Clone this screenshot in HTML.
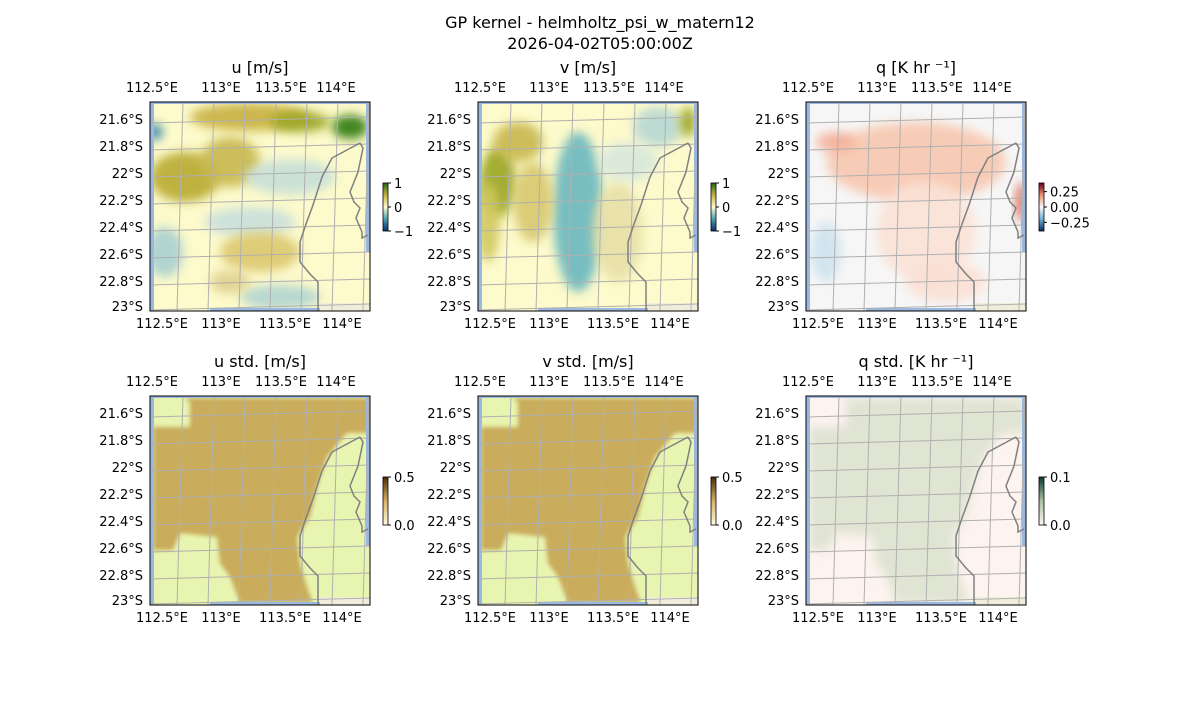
<!DOCTYPE html>
<html><head><meta charset="utf-8"><style>
body{margin:0;background:#fff;font-family:"Liberation Sans","DejaVu Sans",sans-serif;}
svg text{font-family:"DejaVu Sans","Liberation Sans",sans-serif;}
</style></head><body>
<svg id="s" width="1200" height="700" xmlns="http://www.w3.org/2000/svg">
<defs>
<filter id="b" x="-50%" y="-50%" width="200%" height="200%"><feGaussianBlur stdDeviation="9"/></filter>
<filter id="b2" x="-50%" y="-50%" width="200%" height="200%"><feGaussianBlur stdDeviation="5"/></filter>
<filter id="b3" x="-50%" y="-50%" width="200%" height="200%"><feGaussianBlur stdDeviation="2"/></filter>
<linearGradient id="gU" x1="0" y1="1" x2="0" y2="0"><stop offset="0" stop-color="#08306b"/><stop offset="0.25" stop-color="#4aa0b0"/><stop offset="0.5" stop-color="#fdfacb"/><stop offset="0.75" stop-color="#c8b040"/><stop offset="1" stop-color="#1e6a10"/></linearGradient>
<linearGradient id="gQ" x1="0" y1="1" x2="0" y2="0"><stop offset="0" stop-color="#053061"/><stop offset="0.25" stop-color="#6fb0d6"/><stop offset="0.5" stop-color="#f7f7f7"/><stop offset="0.75" stop-color="#f09070"/><stop offset="1" stop-color="#67001f"/></linearGradient>
<linearGradient id="gS" x1="0" y1="1" x2="0" y2="0"><stop offset="0" stop-color="#fffbe0"/><stop offset="0.5" stop-color="#d8b060"/><stop offset="1" stop-color="#4a2a05"/></linearGradient>
<linearGradient id="gQS" x1="0" y1="1" x2="0" y2="0"><stop offset="0" stop-color="#fff5f0"/><stop offset="0.5" stop-color="#a8c0a0"/><stop offset="1" stop-color="#0a3a30"/></linearGradient>
</defs>
<text x="600" y="28" text-anchor="middle" font-size="16">GP kernel - helmholtz_psi_w_matern12</text>
<text x="600" y="49" text-anchor="middle" font-size="16">2026-04-02T05:00:00Z</text>
</svg>
<script>
const S=document.getElementById('s');const NS='http://www.w3.org/2000/svg';
function el(t,a,p){const e=document.createElementNS(NS,t);for(const k in a)e.setAttribute(k,a[k]);(p||S).appendChild(e);return e;}
function tx(x,y,s,a,fs){const e=el('text',{x:x,y:y,'text-anchor':a||'middle','font-size':fs||13});e.textContent=s;return e;}
const W=220,H=209;
const panels=[
 {x:150,y:102,t:'u [m/s]',base:'#fdfacb',blobs:[[100,15,60,14,'#c8b040'],[200,25,18,12,'#2e7a10'],[150,20,30,10,'#9aa520'],[35,75,35,25,'#b8aa30'],[80,60,30,25,'#c8b850'],[140,75,45,18,'#c8e0d8'],[100,120,45,15,'#c8e0dc'],[15,150,18,25,'#a8d0d0'],[110,150,40,20,'#dcc870'],[130,195,40,12,'#b0d4d0'],[5,30,8,8,'#2f85a8'],[80,180,20,12,'#e0d090']],cb:'u',labs:[['1',0],['0',0.5],['−1',1]]},
 {x:478,y:102,t:'v [m/s]',base:'#fdfacb',blobs:[[100,110,25,80,'#6ab8c0'],[20,80,18,35,'#9aa520'],[55,100,20,40,'#d8c870'],[180,25,25,20,'#b8d8d4'],[140,130,25,50,'#e8e0a8'],[40,40,25,20,'#c8b850'],[10,120,12,40,'#d0c860'],[210,20,8,15,'#9aa520'],[150,60,30,20,'#d8e8dc']],cb:'u',labs:[['1',0],['0',0.5],['−1',1]]},
 {x:806,y:102,t:'q [K hr \u207B\u00B9]',base:'#f6f6f6',blobs:[[110,60,90,40,'#f8c8b0'],[120,130,50,50,'#fbe2d6'],[140,180,40,20,'#fbe0d4'],[20,150,15,30,'#cfe3ef'],[30,40,20,10,'#f4b098'],[215,100,5,20,'#d86048']],cb:'q',labs:[['0.25',0.18],['0.00',0.5],['−0.25',0.82]]},
 {x:150,y:396,t:'u std. [m/s]',base:'#e8f5b0',std:'#c9ac5c',cb:'s',labs:[['0.5',0],['0.0',1]]},
 {x:478,y:396,t:'v std. [m/s]',base:'#e8f5b0',std:'#c9ac5c',cb:'s',labs:[['0.5',0],['0.0',1]]},
 {x:806,y:396,t:'q std. [K hr \u207B\u00B9]',base:'#fdf3ef',std:'#e0e4d3',cb:'qs',labs:[['0.1',0],['0.0',1]],soft:1}
];
const coast='M210,41 L182,56 L172,75 L163,103 L156,122 L150,140 L150,160 L160,172 L168,180 L168,209';
const coast2='M210,41 L213,46 L208,70 L200,90 L204,100 L210,106 L206,116 L212,130 L212,136 L218,133';
const stdPoly='M35,2 L220,2 L220,37 L197,37 L177,61 L167,91 L160,121 L147,141 L150,167 L157,191 L163,207 L90,207 L80,181 L70,167 L67,141 L30,137 L23,154 L3,154 L3,31 L40,31 L40,7 Z';
const lats=['21.6°S','21.8°S','22°S','22.2°S','22.4°S','22.6°S','22.8°S','23°S'];
const latY=[18,45,72,99,126,153,180,205];
panels.forEach((p,i)=>{
 const g=el('g',{transform:`translate(${p.x},${p.y})`});
 const cid='c'+i;const cp=el('clipPath',{id:cid},g);el('rect',{x:0,y:0,width:W,height:H},cp);
 const inner=el('g',{'clip-path':`url(#${cid})`},g);
 el('rect',{x:0,y:0,width:W,height:H,fill:p.base},inner);
 if(p.blobs)p.blobs.forEach(b=>el('ellipse',{cx:b[0],cy:b[1],rx:b[2],ry:b[3],fill:b[4],filter:'url(#b2)',opacity:0.9},inner));
 if(p.std){el('path',{d:stdPoly,fill:p.std,filter:p.soft?'url(#b2)':'url(#b3)'},inner);}
 el('rect',{x:168,y:H-8,width:52,height:8,fill:'#f0eedb'},inner);
 el('rect',{x:0,y:0,width:4,height:H,fill:'#9ab8e0'},inner);
 el('rect',{x:W-4,y:0,width:4,height:150,fill:'#9ab8e0'},inner);
 el('rect',{x:0,y:0,width:W,height:2,fill:'#9ab8e0'},inner);
 el('rect',{x:60,y:H-3,width:110,height:3,fill:'#9ab8e0'},inner);
 for(let k=0;k<7;k++){const x0=30+k*31;el('line',{x1:x0+3,y1:0,x2:x0-3,y2:H,stroke:'#b0b0b0','stroke-width':1},inner);}
 latY.forEach(y=>el('line',{x1:0,y1:y+3,x2:W,y2:y-3,stroke:'#b0b0b0','stroke-width':1},inner));
 el('path',{d:coast,fill:'none',stroke:'#808080','stroke-width':1.5},inner);
 el('path',{d:coast2,fill:'none',stroke:'#808080','stroke-width':1.5},inner);
 el('rect',{x:0,y:0,width:W,height:H,fill:'none',stroke:'#000','stroke-width':1},g);
 tx(p.x+110,p.y-29,p.t,'middle',16);
 [[2,'112.5°E'],[71,'113°E'],[131,'113.5°E'],[186,'114°E']].forEach(a=>tx(p.x+a[0],p.y-10,a[1]));
 [[12,'112.5°E'],[71,'113°E'],[135,'113.5°E'],[192,'114°E']].forEach(a=>tx(p.x+a[0],p.y+226,a[1]));
 lats.forEach((l,k)=>tx(p.x-7,p.y+latY[k]+4,l,'end'));
 const bx=p.x+233,by=p.y+81,bh=48;
 const fill={u:'url(#gU)',q:'url(#gQ)',s:'url(#gS)',qs:'url(#gQS)'}[p.cb];
 el('rect',{x:bx,y:by,width:5,height:bh,fill:fill,stroke:'#000','stroke-width':0.8});
 p.labs.forEach(l=>{const y=by+l[1]*bh;el('line',{x1:bx+5,y1:y,x2:bx+8,y2:y,stroke:'#000'});tx(bx+11,y+5,l[0],'start');});
});
</script>
</body></html>
